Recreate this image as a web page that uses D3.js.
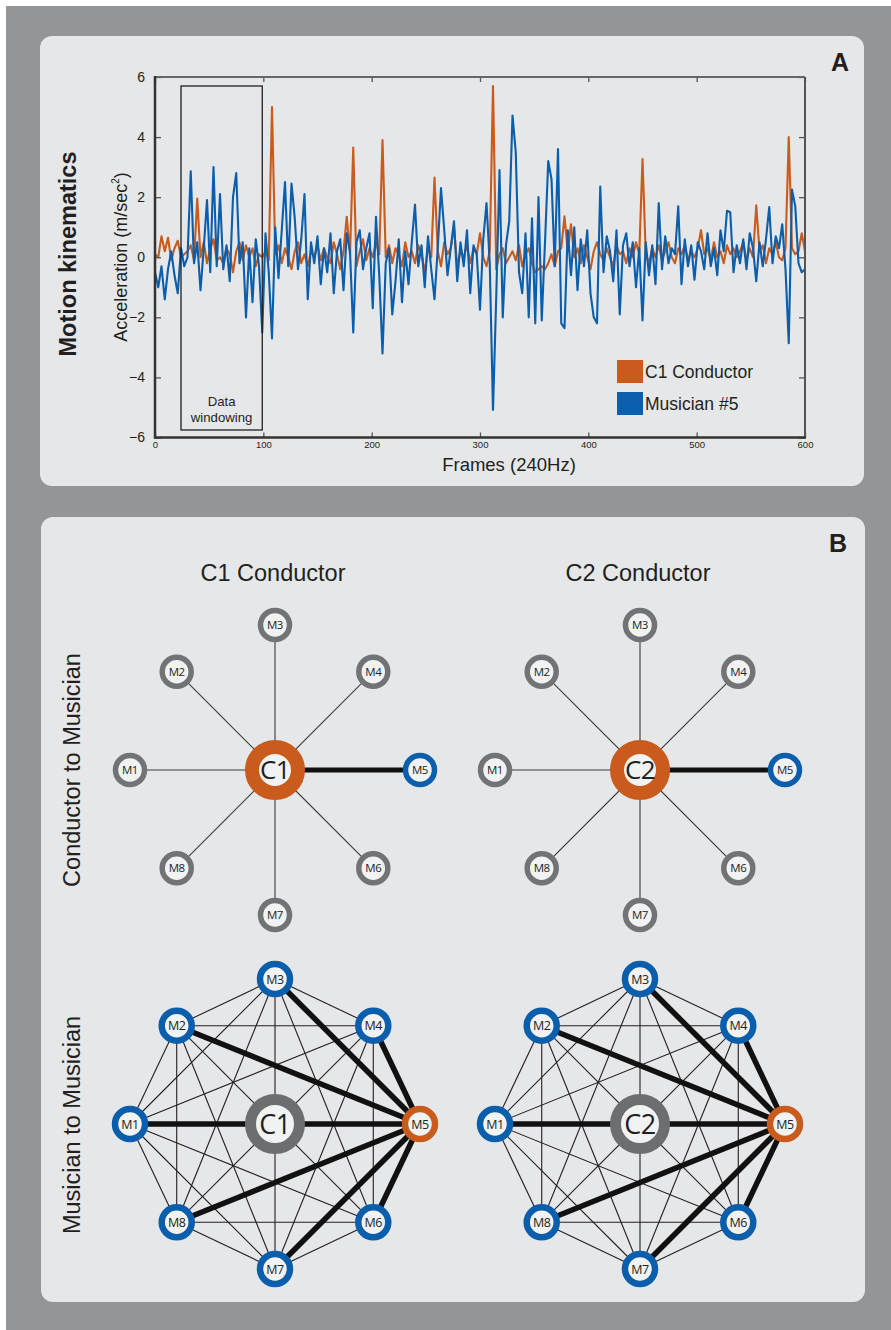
<!DOCTYPE html>
<html>
<head>
<meta charset="utf-8">
<script src="https://cdn.jsdelivr.net/npm/d3@7"></script>
<style>
  body { margin: 0; background: #fff; }
  svg { display: block; font-family: "Liberation Sans", Arial, sans-serif; }
</style>
</head>
<body>
<svg id="fig" width="891" height="1330"></svg>
<script>
// ---- data (panel A): one sample every 3 frames, 0..600 ----
var frameStep = 3;
var conductorAcc = [
  0.1, 0.0, 0.7, 0.2, 0.65, -0.1, 0.3, 0.55, 0.0, 0.1,
  0.2, 0.4, -0.1, 1.95, 0.0, 0.5, -0.2, 0.3, 0.6, -0.1,
  0.0, -0.2, 0.3, 0.1, -0.5, 0.2, 0.5, -0.1, 0.4, 0.0,
  0.3, -0.3, 0.1, 0.0, 0.2, -0.1, 5.0, 0.1, 0.4, -0.2,
  0.3, 0.0, -0.4, 0.2, 0.5, -0.2, 0.1, -0.3, 0.2, 0.0,
  0.4, -0.1, 0.3, 0.0, -0.2, 0.5, 0.1, -0.4, 0.2, 1.35,
  0.1, 3.65, -0.3, 0.2, 0.6, -0.1, 0.3, 0.0, 0.5, 0.1,
  3.9, 0.0, 0.4, -0.2, 0.3, 0.1, -0.3, 0.5, 0.0, 0.2,
  -0.2, 0.4, 0.1, -0.5, 0.3, 0.0, 2.65, 0.2, -0.3, 0.5,
  0.1, 0.3, 1.0, -0.3, 0.2, 0.0, 0.4, -0.2, 0.3, 0.1,
  0.8, 0.0, -0.3, 0.2, 5.7, -0.4, 0.1, 0.3, -0.2, 0.0,
  0.2, -0.1, 0.4, -0.3, 0.1, 0.3, -0.2, -0.5, -0.4, -0.3,
  -0.4, -0.2, 0.1, -0.3, 0.2, 0.3, 1.36, 0.2, 1.1, 0.0,
  0.3, -0.2, 0.4, 0.0, -0.4, 0.2, 0.5, 0.1, -0.1, 0.3,
  0.0, -0.3, 0.4, 0.1, 0.2, -0.2, 0.3, 0.0, 0.5, 0.1,
  3.27, 0.1, -0.2, 0.3, 0.0, 0.4, -0.1, 0.2, 0.5, 0.0,
  -0.2, 0.3, 0.1, 0.4, -0.1, 0.2, 0.0, 0.3, 0.9, 0.1,
  0.3, -0.1, 0.5, 0.0, 0.2, -0.2, 0.4, 0.1, 0.3, 0.0,
  0.2, 0.5, -0.1, 0.3, 0.0, 1.73, 0.2, 0.4, -0.2, 0.3,
  0.1, 0.5, 0.0, -0.1, 0.3, 4.0, 0.3, 0.1, 0.2, 0.8,
  0.2
];
var musicianAcc = [
  -0.5, -1.0, -0.3, -1.4, -0.4, 0.2, -0.6, -1.2, 0.3, -0.3,
  0.0, 2.86, -0.2, 0.5, -1.1, 0.3, 1.9, -0.5, 3.0, -0.3,
  2.1, -0.4, 0.4, -0.8, 2.0, 2.8, -0.2, 0.5, -2.0, 0.3,
  -1.5, 0.6, -0.3, -2.5, 0.8, -0.5, -2.7, 1.0, -0.7, 0.9,
  2.5, -0.3, 2.45, 1.3, -0.4, 0.6, 2.1, -1.4, 0.5, -0.2,
  0.7, -0.9, 0.3, -0.5, 0.8, -1.2, 0.2, 0.6, -1.1, 0.8,
  0.2, -2.5, 0.5, 0.9, -0.4, 0.3, 0.8, -1.7, 1.35, -0.6,
  -3.2, -0.2, 0.3, -1.9, -0.8, 0.6, -1.5, 0.2, -0.9, 0.5,
  1.75, -0.3, 0.4, -1.0, 0.7, -0.4, -1.4, 0.3, 2.3, 0.9,
  -0.6, 0.3, 1.2, -0.8, 0.5, -0.3, 0.9, -1.2, 0.4, 0.1,
  -1.75, 0.6, 1.8, -0.2, -5.08, -1.3, 2.9, -2.0, 0.4, 1.2,
  4.72, 3.5, -0.5, -1.2, 0.8, -2.0, 1.3, -2.2, 2.0, -2.1,
  0.5, 3.2, 2.6, -0.3, 3.6, -2.2, -2.36, 0.9, -0.6, 1.0,
  -1.1, 0.6, -0.3, 0.9, -1.2, -2.0, -2.2, 2.35, -0.5, 0.7,
  0.2, -0.8, 0.9, -1.9, 0.4, 0.8, -0.3, 0.5, -1.0, 0.3,
  -2.1, 0.5, -0.6, 0.4, -0.9, 1.8, -0.4, 0.7, -0.2, 0.3,
  0.1, 1.7, -0.9, 0.6, -0.3, 0.4, -0.75, 0.5, 0.2, -0.4,
  0.8, -0.3, 0.3, -0.6, 0.9, 0.2, 1.55, 1.5, -0.5, 0.4,
  -0.2, 0.6, -0.4, 0.8, 0.3, -0.8, 0.5, -0.3, 0.6, 1.67,
  -0.2, 0.7, 0.3, 1.1, -0.4, -2.86, 2.25, 1.7, -0.2, -0.5,
  -0.4
];
var yTicks = [-6, -4, -2, 0, 2, 4, 6];
var xTicks = [0, 100, 200, 300, 400, 500, 600];
var windowFrames = [24, 99];
var seriesNames = ["C1 Conductor", "Musician #5"];

// ---- data (panel B) ----
var musicians = ["M1", "M2", "M3", "M4", "M5", "M6", "M7", "M8"];
var conductors = ["C1", "C2"];
var strongC2M = ["M5"];
var strongM2M = [["M5", "M1"], ["M5", "M2"], ["M5", "M3"], ["M5", "M4"], ["M5", "M6"], ["M5", "M7"], ["M5", "M8"]];

var orange = "#c95b1c", blue = "#0b5eab", ringGray = "#727376", ink = "#231f20";

var svg = d3.select("#fig");

// background + panels
svg.append("rect").attr("x", 6).attr("y", 6).attr("width", 885).attr("height", 1324).attr("fill", "#939598");
svg.append("rect").attr("x", 40).attr("y", 36).attr("width", 824).attr("height", 450).attr("rx", 12).attr("fill", "#e6e7e8");
svg.append("rect").attr("x", 41).attr("y", 517).attr("width", 824).attr("height", 785).attr("rx", 12).attr("fill", "#e6e7e8");

svg.append("text").attr("x", 840).attr("y", 71).attr("text-anchor", "middle")
  .attr("font-size", 25).attr("font-weight", "bold").attr("fill", ink).text("A");
svg.append("text").attr("x", 838).attr("y", 552).attr("text-anchor", "middle")
  .attr("font-size", 25).attr("font-weight", "bold").attr("fill", ink).text("B");

// ================= Panel A =================
var x = d3.scaleLinear().domain([0, 600]).range([155, 805]);
var y = d3.scaleLinear().domain([-6, 6]).range([437.5, 77]);

var line = d3.line()
  .x(function(d, i) { return x(i * frameStep); })
  .y(function(d) { return y(d); });

var pa = svg.append("g");

pa.append("path").datum(conductorAcc).attr("d", line)
  .attr("fill", "none").attr("stroke", orange).attr("stroke-width", 2.1).attr("stroke-linejoin", "round");
pa.append("path").datum(musicianAcc).attr("d", line)
  .attr("fill", "none").attr("stroke", blue).attr("stroke-width", 2.1).attr("stroke-linejoin", "round");

// axes (inward ticks, MATLAB style box)
var gl = pa.append("g").attr("transform", "translate(155,0)")
  .call(d3.axisLeft(y).tickValues(yTicks).tickSize(-6).tickPadding(10));
gl.selectAll("text").attr("font-size", 14).attr("fill", ink).attr("font-family", "Liberation Sans, Arial, sans-serif");
var gr = pa.append("g").attr("transform", "translate(805,0)")
  .call(d3.axisRight(y).tickValues(yTicks).tickSize(-6).tickFormat(""));
var gb = pa.append("g").attr("transform", "translate(0,437.5)")
  .call(d3.axisBottom(x).tickValues(xTicks).tickSize(-5).tickPadding(4));
gb.selectAll("text").attr("font-size", 9.5).attr("fill", ink).attr("font-family", "Liberation Sans, Arial, sans-serif");
var gt = pa.append("g").attr("transform", "translate(0,77)")
  .call(d3.axisTop(x).tickValues(xTicks).tickSize(-5).tickFormat(""));
[gl, gr, gb, gt].forEach(function(g) {
  g.select(".domain").remove();
  g.selectAll("line").attr("stroke", "#555").attr("stroke-width", 1.3);
});

pa.append("line").attr("x1", 155).attr("x2", 805).attr("y1", 77).attr("y2", 77).attr("stroke", "#666").attr("stroke-width", 2);
pa.append("line").attr("x1", 805).attr("x2", 805).attr("y1", 77).attr("y2", 437.5).attr("stroke", "#555").attr("stroke-width", 2);
pa.append("line").attr("x1", 155).attr("x2", 155).attr("y1", 76).attr("y2", 438.5).attr("stroke", "#333").attr("stroke-width", 2.5);
pa.append("line").attr("x1", 154).attr("x2", 806).attr("y1", 437.5).attr("y2", 437.5).attr("stroke", "#333").attr("stroke-width", 2.5);

// data windowing box
pa.append("rect").attr("x", x(windowFrames[0])).attr("y", 86)
  .attr("width", x(windowFrames[1]) - x(windowFrames[0])).attr("height", 344)
  .attr("fill", "none").attr("stroke", ink).attr("stroke-width", 1.3);
var wx = (x(windowFrames[0]) + x(windowFrames[1])) / 2;
pa.append("text").attr("x", wx).attr("y", 406).attr("text-anchor", "middle").attr("font-size", 13.2).attr("fill", ink).text("Data");
pa.append("text").attr("x", wx).attr("y", 422).attr("text-anchor", "middle").attr("font-size", 13.2).attr("fill", ink).text("windowing");

// axis labels
var yl = pa.append("text").attr("transform", "translate(127,257) rotate(-90)")
  .attr("text-anchor", "middle").attr("font-size", 18).attr("fill", ink);
yl.append("tspan").text("Acceleration (m/sec");
yl.append("tspan").attr("font-size", 10).attr("dy", -8).text("2");
yl.append("tspan").attr("dy", 8).text(")");
pa.append("text").attr("x", 509).attr("y", 471).attr("text-anchor", "middle")
  .attr("font-size", 18.5).attr("fill", ink).text("Frames (240Hz)");
pa.append("text").attr("transform", "translate(76,254) rotate(-90)")
  .attr("text-anchor", "middle").attr("font-size", 23.5).attr("font-weight", "bold").attr("fill", ink).text("Motion kinematics");

// legend
var leg = pa.selectAll("g.leg").data(seriesNames).enter().append("g").attr("class", "leg")
  .attr("transform", function(d, i) { return "translate(617," + (360 + i * 32) + ")"; });
leg.append("rect").attr("width", 26).attr("height", 23)
  .attr("fill", function(d, i) { return i === 0 ? orange : blue; });
leg.append("text").attr("x", 28).attr("y", 17.5).attr("font-size", 17.5).attr("fill", ink)
  .text(function(d) { return d; });

// ================= Panel B =================
function nodePos(cx, cy) {
  var pos = {};
  musicians.forEach(function(m, i) {
    var a = Math.PI + i * Math.PI / 4;
    var r = i % 2 ? 139 : 145;
    pos[m] = [cx + r * Math.cos(a), cy + r * Math.sin(a)];
  });
  return pos;
}

function drawNode(g, p, label, r, sw, color, fs) {
  g.append("circle").attr("cx", p[0]).attr("cy", p[1]).attr("r", r)
    .attr("fill", "#f1f2f2").attr("stroke", color).attr("stroke-width", sw);
  g.append("text").attr("x", p[0]).attr("y", p[1]).attr("dy", "0.36em")
    .attr("text-anchor", "middle").attr("font-size", fs).attr("fill", ink)
    .attr("font-family", "'Open Sans', 'Noto Sans', sans-serif").attr("letter-spacing", -0.5)
    .text(label);
}

var cols = [275, 640];

conductors.forEach(function(c, ci) {
  var cx = cols[ci];
  var g = svg.append("g");

  g.append("text").attr("x", cx - 2).attr("y", 581).attr("text-anchor", "middle")
    .attr("font-size", 23.5).attr("fill", ink).text(c + " Conductor");

  // conductor -> musician star
  var cy = 770;
  var pos = nodePos(cx, cy);
  g.selectAll("line.c2m").data(musicians).enter().append("line")
    .attr("x1", cx).attr("y1", cy)
    .attr("x2", function(m) { return pos[m][0]; }).attr("y2", function(m) { return pos[m][1]; })
    .attr("stroke", function(m) { return strongC2M.indexOf(m) >= 0 ? "#111" : "#3a3a3a"; })
    .attr("stroke-width", function(m) { return strongC2M.indexOf(m) >= 0 ? 5 : 1.1; });
  musicians.forEach(function(m) {
    drawNode(g, pos[m], m, 14.5, 5.5, strongC2M.indexOf(m) >= 0 ? blue : ringGray, 11.5);
  });
  drawNode(g, [cx, cy], c, 23, 14, orange, 26);

  // musician -> musician complete graph
  var cy2 = 1124;
  var pos2 = nodePos(cx, cy2);
  var pairs = [];
  musicians.forEach(function(a, i) {
    musicians.slice(i + 1).forEach(function(b) {
      var strong = strongM2M.some(function(s) { return (s[0] === a && s[1] === b) || (s[0] === b && s[1] === a); });
      pairs.push({ a: a, b: b, strong: strong });
    });
  });
  pairs.sort(function(p, q) { return p.strong - q.strong; });
  g.selectAll("line.m2m").data(pairs).enter().append("line")
    .attr("x1", function(d) { return pos2[d.a][0]; }).attr("y1", function(d) { return pos2[d.a][1]; })
    .attr("x2", function(d) { return pos2[d.b][0]; }).attr("y2", function(d) { return pos2[d.b][1]; })
    .attr("stroke", function(d) { return d.strong ? "#111" : ink; })
    .attr("stroke-width", function(d) { return d.strong ? 5.5 : 1.1; });
  drawNode(g, [cx, cy2], c, 24.5, 11, "#6d6e71", 27);
  musicians.forEach(function(m) {
    drawNode(g, pos2[m], m, 15, 6.5, m === "M5" ? orange : blue, 12.5);
  });
});

// row labels
svg.append("text").attr("transform", "translate(80,770) rotate(-90)").attr("text-anchor", "middle")
  .attr("font-size", 23.5).attr("fill", ink).text("Conductor to Musician");
svg.append("text").attr("transform", "translate(80,1125) rotate(-90)").attr("text-anchor", "middle")
  .attr("font-size", 23.5).attr("fill", ink).text("Musician to Musician");
</script>
</body>
</html>
